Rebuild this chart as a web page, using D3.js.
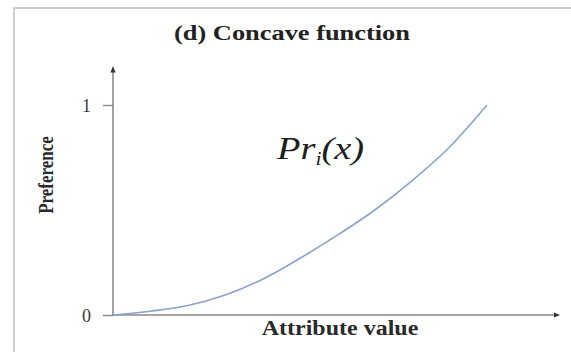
<!DOCTYPE html>
<html>
<head>
<meta charset="utf-8">
<script src="https://cdn.jsdelivr.net/npm/d3@7"></script>
<style>
  html, body { margin: 0; padding: 0; background: #fff; }
  svg { display: block; }
</style>
</head>
<body>
<svg id="chart" width="571" height="352"></svg>
<script>
// Attribute value (normalised) and the matching preference Pr_i(x)
const attributeValues = [0, 0.1, 0.2, 0.3, 0.4, 0.5, 0.6, 0.7, 0.8, 0.9, 1.0];
const preferenceValues = [0, 0.018, 0.045, 0.095, 0.17, 0.27, 0.38, 0.50, 0.64, 0.80, 1.0];
const yTickValues = [0, 1];
const yTickLabels = ["0", "1"];

const titleText = "(d) Concave function";
const xLabelText = "Attribute value";
const yLabelText = "Preference";

const serifFamily = "'Liberation Serif', 'Times New Roman', 'DejaVu Serif', serif";
const svg = d3.select("#chart");

// Glyphs in this figure are drawn a little wider than they are tall
const stretchX = 1.2;

// Frame around the panel
svg.append("rect")
  .attr("x", 14).attr("y", 8)
  .attr("width", 700).attr("height", 500)
  .attr("fill", "none")
  .attr("stroke", "#cfcfcf")
  .attr("stroke-width", 2);

// Scales for the curve
const x = d3.scaleLinear().domain([0, 1]).range([113, 487]);
const y = d3.scaleLinear().domain([0, 1]).range([315, 105]);

// Axis lines run past the unit range and end in arrow heads
const xAxisMax = 1.187, yAxisMax = 1.17;
const xAxisScale = x.copy().domain([0, xAxisMax]).range([x(0), x(xAxisMax)]);
const yAxisScale = y.copy().domain([0, yAxisMax]).range([y(0), y(yAxisMax)]);

svg.append("defs").append("marker")
  .attr("id", "arrow")
  .attr("viewBox", "0 0 10 10")
  .attr("refX", 5).attr("refY", 5)
  .attr("markerWidth", 4).attr("markerHeight", 4)
  .attr("orient", "auto")
  .append("path")
  .attr("d", "M0,1 L10,5 L0,9 Z")
  .attr("fill", "#333");

const axisColor = "#8a8a8a";

// y axis
const gy = svg.append("g")
  .attr("transform", `translate(${x(0)},0)`)
  .call(d3.axisLeft(yAxisScale)
    .tickValues(yTickValues)
    .tickSize(10)
    .tickSizeOuter(0)
    .tickPadding(12)
    .tickFormat((d, i) => yTickLabels[i]));
gy.select(".domain")
  .attr("d", `M0,${yAxisScale(0)}V${yAxisScale(yAxisMax)}`)
  .attr("stroke", axisColor).attr("stroke-width", 1.6)
  .attr("marker-end", "url(#arrow)");
gy.selectAll(".tick line").attr("stroke", axisColor).attr("stroke-width", 1.4);
gy.selectAll(".tick text")
  .attr("font-family", serifFamily)
  .attr("font-size", 18)
  .attr("fill", "#3a3a3a")
  .attr("dy", "0.35em");

// x axis
const gx = svg.append("g")
  .attr("transform", `translate(0,${y(0)})`)
  .call(d3.axisBottom(xAxisScale).tickValues([]).tickSizeOuter(0));
gx.select(".domain")
  .attr("d", `M${xAxisScale(0)},0H${xAxisScale(xAxisMax)}`)
  .attr("stroke", axisColor).attr("stroke-width", 1.6)
  .attr("marker-end", "url(#arrow)");

// Preference curve
const points = attributeValues.map((a, i) => [a, preferenceValues[i]]);
svg.append("path")
  .datum(points)
  .attr("fill", "none")
  .attr("stroke", "#8aa2cc")
  .attr("stroke-width", 1.6)
  .attr("d", d3.line()
    .x(d => x(d[0]))
    .y(d => y(d[1]))
    .curve(d3.curveMonotoneX));

// Text helper: places a label with the wide glyph proportions
function label(px, py, opts) {
  const g = svg.append("g")
    .attr("transform", `translate(${px},${py}) scale(${stretchX},1)${opts.rotate ? ` rotate(${opts.rotate})` : ""}`);
  return g.append("text")
    .attr("font-family", serifFamily)
    .attr("text-anchor", opts.anchor || "middle")
    .attr("font-size", opts.size)
    .attr("font-weight", opts.weight || "normal")
    .attr("font-style", opts.style || "normal")
    .attr("fill", opts.fill || "#222");
}

label(292, 40, { size: 22, weight: "bold" }).text(titleText);
label(340, 335, { size: 20, weight: "bold", fill: "#2a2a2a" }).text(xLabelText);
label(53, 175, { size: 17, weight: "bold", rotate: -90, fill: "#2a2a2a" }).text(yLabelText);

// Function name Pr_i(x)
const fn = label(277, 159, { size: 32, style: "italic", anchor: "start", fill: "#1e1e1e" });
fn.append("tspan").text("Pr");
fn.append("tspan").attr("font-size", 18).attr("dy", 6).text("i");
fn.append("tspan").attr("dy", -6).text("(x)");
</script>
</body>
</html>
